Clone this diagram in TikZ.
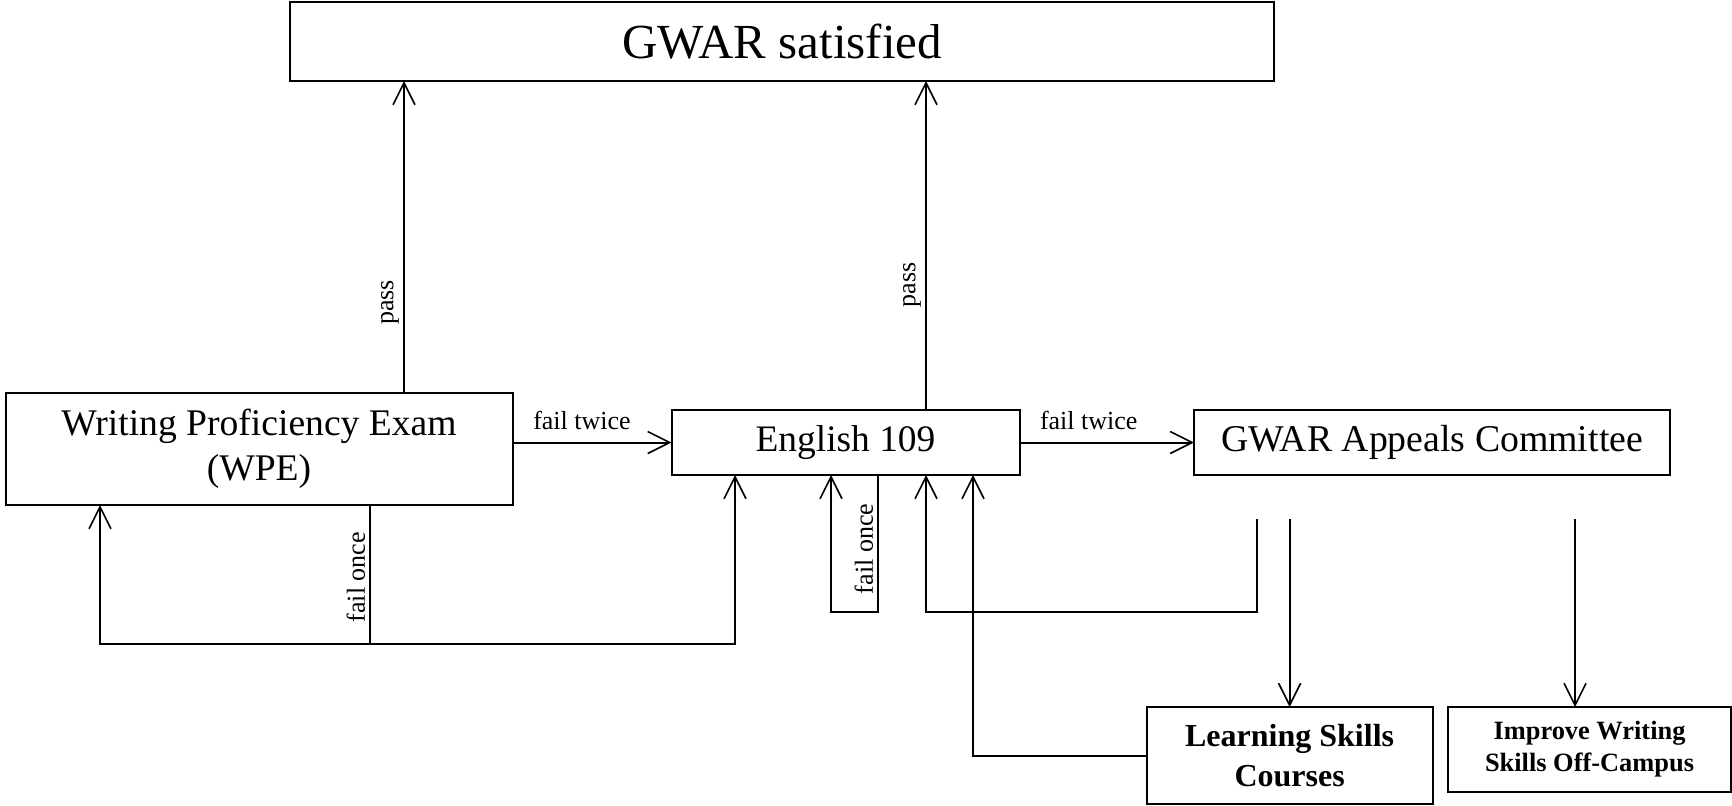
\documentclass[tikz,border=0pt]{standalone}
\usepackage{fontspec}
\setmainfont{Liberation Serif}
\usetikzlibrary{arrows.meta}

\begin{document}
\begin{tikzpicture}[x=0.5pt, y=-0.5pt, line width=1pt,
  box/.style={draw, rectangle, align=center, inner sep=2pt, outer sep=0pt},
  arr/.style={-{Straight Barb[length=11pt, width=11pt, line width=0.8pt]}},
  lbl/.style={font=\fontsize{13}{15}\selectfont, inner sep=2pt}]
\useasboundingbox (0,0) rectangle (1732,805);

\node[box, minimum width=492pt, minimum height=39.5pt,
  font=\fontsize{24.5}{28}\selectfont] (sat) at (782,41.5) {GWAR satisfied};
\node[box, minimum width=253.5pt, minimum height=56pt,
  font=\fontsize{18.8}{22.5}\selectfont] (wpe) at (259,449)
  {Writing Proficiency Exam\\(WPE)};
\node[box, minimum width=174pt, minimum height=32.5pt,
  font=\fontsize{18.7}{21}\selectfont] (eng) at (845.5,442.5) {English 109};
\node[box, minimum width=238pt, minimum height=32.5pt,
  font=\fontsize{18.9}{21}\selectfont] (appeal) at (1432,442.5)
  {GWAR Appeals Committee};
\node[box, minimum width=143pt, minimum height=48.5pt,
  font=\bfseries\fontsize{16}{20}\selectfont] (lsc) at (1289.6,755.5)
  {Learning Skills\\Courses};
\node[box, minimum width=141.5pt, minimum height=42.5pt,
  font=\bfseries\fontsize{13.2}{16}\selectfont] (iwo) at (1589.5,749.5)
  {Improve Writing\\Skills Off-Campus};

\coordinate (a1) at (1257,519);
\coordinate (a2) at (1289.6,519);
\coordinate (a3) at (1575,519);

% pass
\draw[arr] (wpe.north -| 404,0) -- (sat.south -| 404,0)
  node[lbl, pos=0.29, sloped, above] {pass};
\draw[arr] (eng.north -| 926,0) -- (sat.south -| 926,0)
  node[lbl, pos=0.38, sloped, above] {pass};

% fail twice
\draw[arr] (eng.west -| wpe.east) -- (eng.west)
  node[lbl, midway, above=4pt, xshift=-5pt] {fail twice};
\draw[arr] (eng.east) -- (appeal.west)
  node[lbl, midway, above=4pt, xshift=-9pt] {fail twice};

% fail once
\draw[arr] (wpe.south -| 370,0) -- (370,644)
  node[lbl, pos=0.52, rotate=90, anchor=south] {fail once}
  -| (wpe.south -| 100,0);
\draw[arr] (370,644) -| (eng.south -| 735,0);
\draw[arr] (eng.south -| 878,0) -- (878,612)
  node[lbl, pos=0.54, rotate=90, anchor=south] {fail once}
  -| (eng.south -| 831,0);

% appeals
\draw[arr] (a1) -- (1257,612) -| (eng.south -| 926,0);
\draw[arr] (a2) -- (lsc.north);
\draw[arr] (a3) -- (a3 |- iwo.north);
\draw[arr] (lsc.west) -| (eng.south -| 973,0);
\end{tikzpicture}
\end{document}
